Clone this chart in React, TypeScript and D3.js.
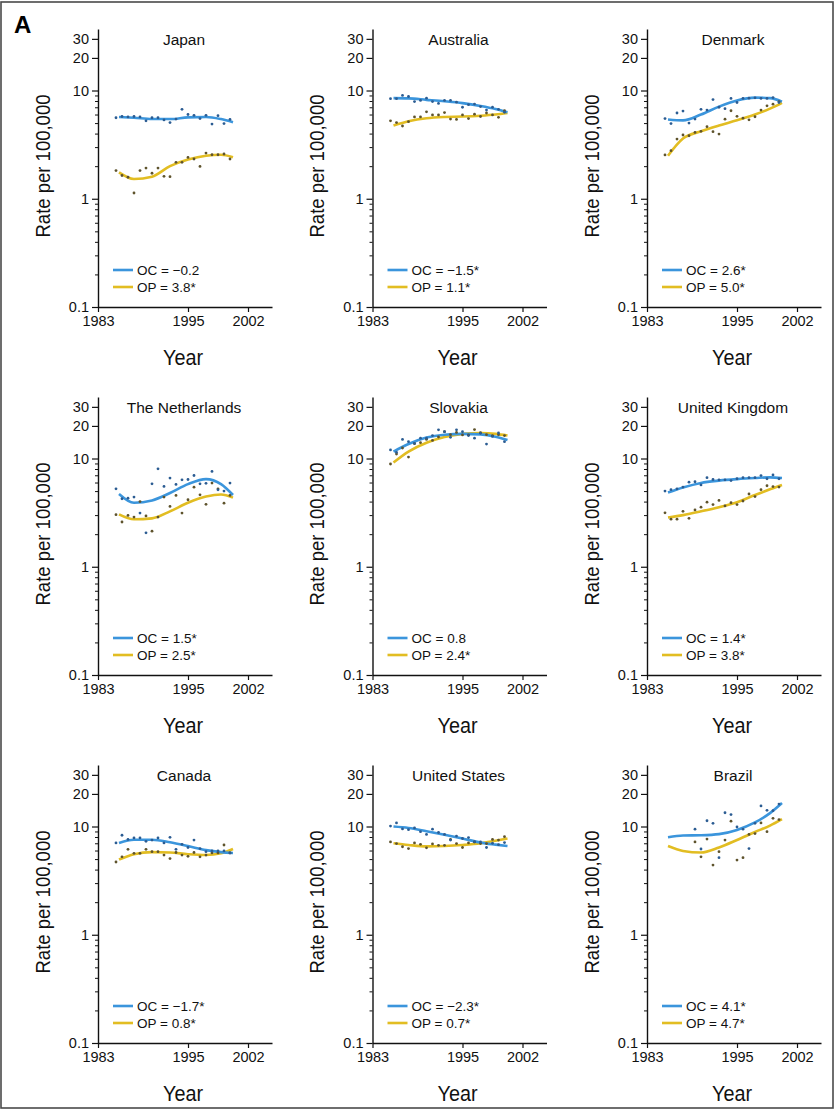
import React, { useRef, useEffect } from 'react';
import * as d3 from 'd3';

// annual points 1983-2002 (Brazil 1988-2002), fitted curves read at a few knots
const years = [1983, 1984, 1985, 1986, 1987, 1988, 1989, 1990, 1991, 1992, 1993, 1994, 1995, 1996, 1997, 1998, 1999, 2000, 2001, 2002];
const brazilYears = [1988, 1989, 1990, 1991, 1992, 1993, 1994, 1995, 1996, 1997, 1998, 1999, 2000, 2001, 2002];
const fitYears = [1983.5, 1986, 1989, 1992, 1995, 1998, 2000.5, 2002.5];

const countries = ['Japan', 'Australia', 'Denmark', 'The Netherlands', 'Slovakia', 'United Kingdom', 'Canada', 'United States', 'Brazil'];
const ocLabels = ['OC = \u22120.2', 'OC = \u22121.5*', 'OC = 2.6*', 'OC = 1.5*', 'OC = 0.8', 'OC = 1.4*', 'OC = \u22121.7*', 'OC = \u22122.3*', 'OC = 4.1*'];
const opLabels = ['OP = 3.8*', 'OP = 1.1*', 'OP = 5.0*', 'OP = 2.5*', 'OP = 2.4*', 'OP = 3.8*', 'OP = 0.8*', 'OP = 0.7*', 'OP = 4.7*'];

const japanOC = [5.6, 5.75, 5.7, 5.75, 5.7, 5.25, 5.6, 5.6, 5.35, 5.05, 5.45, 6.7, 6.0, 5.9, 5.5, 5.9, 4.9, 5.85, 4.95, 5.4];
const japanOP = [1.82, 1.64, 1.58, 1.13, 1.82, 1.92, 1.72, 1.92, 1.61, 1.6, 2.17, 2.17, 2.41, 2.33, 1.99, 2.64, 2.55, 2.55, 2.59, 2.33];
const japanOCFit = [5.7, 5.6, 5.45, 5.45, 5.65, 5.7, 5.45, 5.1];
const japanOPFit = [1.75, 1.52, 1.6, 2.0, 2.3, 2.5, 2.55, 2.42];

const australiaOC = [8.4, 8.4, 9.0, 8.8, 7.9, 8.1, 8.5, 7.9, 7.6, 8.1, 8.1, 7.8, 7.0, 7.4, 7.5, 7.1, 6.6, 7.0, 6.7, 6.3];
const australiaOP = [5.25, 5.05, 4.7, 5.15, 5.7, 5.7, 6.35, 5.95, 5.95, 6.25, 5.45, 5.4, 5.95, 5.5, 6.05, 5.75, 6.2, 5.95, 5.65, 6.5];
const australiaOCFit = [8.5, 8.45, 8.2, 7.95, 7.65, 7.2, 6.75, 6.3];
const australiaOPFit = [4.75, 5.2, 5.55, 5.7, 5.75, 5.85, 6.0, 6.2];

const denmarkOC = [5.5, 4.95, 6.2, 6.45, 5.0, 5.45, 6.7, 6.6, 8.25, 7.0, 6.8, 8.45, 7.75, 8.45, 8.5, 8.55, 8.45, 8.45, 8.6, 7.75];
const denmarkOP = [2.54, 2.78, 3.56, 3.88, 3.82, 4.1, 4.2, 4.63, 4.17, 3.96, 5.44, 6.5, 5.77, 5.55, 5.36, 5.72, 6.6, 7.22, 7.48, 7.9];
const denmarkOCFit = [5.4, 5.3, 6.0, 7.1, 8.1, 8.6, 8.5, 7.9];
const denmarkOPFit = [2.5, 3.6, 4.2, 4.75, 5.3, 6.0, 6.8, 7.7];

const netherlandsOC = [5.25, 4.25, 4.3, 4.4, 3.13, 2.06, 5.84, 8.03, 5.52, 6.59, 5.76, 6.36, 6.4, 6.97, 5.84, 5.9, 7.59, 5.14, 5.0, 5.93];
const netherlandsOP = [3.03, 2.59, 2.98, 2.88, 4.0, 2.95, 2.13, 2.88, 4.4, 3.61, 4.56, 3.13, 4.16, 5.44, 4.62, 3.77, 5.93, 5.25, 3.87, 4.56];
const netherlandsOCFit = [4.7, 3.9, 4.1, 4.8, 5.8, 6.45, 5.8, 4.6];
const netherlandsOPFit = [3.05, 2.75, 2.8, 3.25, 3.9, 4.45, 4.65, 4.35];

const slovakiaOC = [12.0, 11.4, 15.0, 14.3, 13.8, 15.4, 15.4, 16.3, 18.4, 17.7, 15.7, 18.4, 17.7, 16.3, 15.4, 17.1, 13.6, 16.0, 17.2, 14.3];
const slovakiaOP = [8.9, 11.0, 12.5, 10.3, 13.7, 14.0, 15.0, 14.7, 15.8, 17.7, 16.6, 17.4, 16.5, 16.5, 18.5, 17.3, 16.6, 16.3, 16.6, 16.3];
const slovakiaOCFit = [11.6, 13.6, 15.6, 16.6, 16.9, 16.7, 15.9, 14.8];
const slovakiaOPFit = [9.2, 11.6, 14.0, 15.8, 16.9, 17.2, 16.9, 16.3];

const ukOC = [5.0, 5.15, 5.25, 5.45, 6.05, 6.1, 5.7, 6.65, 6.4, 6.35, 6.35, 6.25, 6.5, 6.65, 6.65, 6.65, 6.95, 6.5, 7.05, 6.5];
const ukOP = [3.15, 2.75, 2.75, 3.25, 2.8, 3.35, 3.55, 3.95, 3.75, 4.1, 3.65, 3.9, 3.75, 4.05, 4.7, 4.45, 5.15, 5.6, 5.5, 5.45];
const ukOCFit = [4.85, 5.4, 5.95, 6.25, 6.45, 6.6, 6.7, 6.6];
const ukOPFit = [2.85, 3.0, 3.25, 3.55, 3.95, 4.6, 5.2, 5.7];

const canadaOC = [7.05, 8.3, 7.6, 7.85, 7.85, 7.3, 7.5, 7.85, 7.05, 7.95, 6.15, 6.85, 6.4, 7.5, 6.25, 5.85, 5.95, 5.95, 5.95, 5.7];
const canadaOP = [4.7, 5.25, 6.15, 5.65, 5.65, 6.15, 5.85, 5.85, 5.45, 5.05, 5.75, 5.45, 5.3, 5.75, 5.25, 5.45, 5.7, 5.7, 6.75, 5.7];
const canadaOCFit = [7.05, 7.55, 7.55, 7.15, 6.6, 6.05, 5.8, 5.7];
const canadaOPFit = [4.95, 5.55, 5.8, 5.75, 5.55, 5.45, 5.65, 6.2];

const usOC = [10.1, 10.8, 9.5, 9.35, 9.7, 8.95, 8.45, 9.45, 8.8, 8.45, 7.5, 8.15, 7.75, 7.9, 7.2, 7.2, 6.4, 7.0, 6.8, 7.1];
const usOP = [7.2, 6.95, 6.5, 6.25, 7.05, 6.85, 6.35, 6.9, 6.7, 6.7, 7.6, 6.95, 6.4, 7.05, 7.2, 6.95, 6.95, 7.6, 7.5, 8.05];
const usOCFit = [10.0, 9.7, 9.05, 8.4, 7.75, 7.1, 6.8, 6.6];
const usOPFit = [7.0, 6.75, 6.55, 6.6, 6.75, 7.0, 7.4, 7.75];

const brazilOC = [9.45, 6.2, 11.3, 10.7, 5.15, 13.4, 12.9, 9.9, 9.45, 6.25, 10.7, 15.5, 14.1, 14.0, 16.1];
const brazilOP = [7.2, 5.25, 7.65, 4.4, 5.85, 7.5, 11.2, 4.9, 5.15, 8.45, 8.6, 10.8, 8.95, 11.9, 11.6];
const brazilOCFit = [7.95, 8.25, 8.3, 8.5, 9.3, 10.9, 13.3, 16.5];
const brazilOPFit = [6.6, 5.95, 5.75, 6.4, 7.5, 8.9, 10.2, 11.7];

const yMajorTicks = [0.1, 1, 10, 20, 30];
const yMinorTicks = [0.2, 0.3, 0.4, 0.5, 0.6, 0.7, 0.8, 0.9, 2, 3, 4, 5, 6, 7, 8, 9];
// the printed axis puts "1983" at the origin and "2002" past the last point
const xTickAt = [1980, 1995, 2005];
const xTickLabels = ['1983', '1995', '2002'];

const panels = [
  { oc: japanOC, op: japanOP, ocFit: japanOCFit, opFit: japanOPFit, yrs: years },
  { oc: australiaOC, op: australiaOP, ocFit: australiaOCFit, opFit: australiaOPFit, yrs: years },
  { oc: denmarkOC, op: denmarkOP, ocFit: denmarkOCFit, opFit: denmarkOPFit, yrs: years },
  { oc: netherlandsOC, op: netherlandsOP, ocFit: netherlandsOCFit, opFit: netherlandsOPFit, yrs: years },
  { oc: slovakiaOC, op: slovakiaOP, ocFit: slovakiaOCFit, opFit: slovakiaOPFit, yrs: years },
  { oc: ukOC, op: ukOP, ocFit: ukOCFit, opFit: ukOPFit, yrs: years },
  { oc: canadaOC, op: canadaOP, ocFit: canadaOCFit, opFit: canadaOPFit, yrs: years },
  { oc: usOC, op: usOP, ocFit: usOCFit, opFit: usOPFit, yrs: years },
  { oc: brazilOC, op: brazilOP, ocFit: brazilOCFit, opFit: brazilOPFit, yrs: brazilYears },
];

const FONT = '"Liberation Sans", Arial, Helvetica, sans-serif';
const OC_LINE = '#3b95dc';
const OP_LINE = '#e2bd22';
const OC_DOT = '#2b5c92';
const OP_DOT = '#5e532c';

export default function App() {
  const svgRef = useRef<SVGSVGElement>(null);

  useEffect(() => {
    const svg = d3.select(svgRef.current);
    svg.selectAll('*').remove();

    const plotW = 174;
    const plotH = 278;

    svg.append('rect')
      .attr('x', 1).attr('y', 2).attr('width', 832).attr('height', 1106)
      .attr('fill', 'none').attr('stroke', '#4a4a4a').attr('stroke-width', 1.6);

    svg.append('text')
      .attr('x', 14).attr('y', 33)
      .style('font-family', FONT).style('font-size', '24px').style('font-weight', '700')
      .text('A');

    panels.forEach((p, i) => {
      const col = i % 3;
      const row = Math.floor(i / 3);
      const g = svg.append('g')
        .attr('transform', `translate(${98 + col * 274.5},${307 + row * 368 - plotH})`);

      const x = d3.scaleLinear().domain([1980, 2009]).range([0, plotW]);
      const y = d3.scaleLog().domain([0.1, 37]).range([plotH, 0]);

      // minor ticks
      const minor = g.append('g')
        .call(d3.axisLeft(y).tickValues(yMinorTicks).tickSize(3).tickFormat(() => ''));
      minor.select('.domain').remove();
      minor.selectAll('line').attr('stroke', '#111').attr('stroke-width', 1);

      const yAxis = g.append('g')
        .call(d3.axisLeft(y).tickValues(yMajorTicks).tickSize(6).tickSizeOuter(0).tickPadding(3)
          .tickFormat((d) => String(d)));
      yAxis.select('.domain').attr('stroke', '#111').attr('stroke-width', 1.4);
      yAxis.selectAll('line').attr('stroke', '#111').attr('stroke-width', 1.2);
      yAxis.selectAll('text').style('font-family', FONT).style('font-size', '14.5px').attr('fill', '#111');

      const xAxis = g.append('g')
        .attr('transform', `translate(0,${plotH})`)
        .call(d3.axisBottom(x).tickValues(xTickAt).tickSize(5).tickSizeOuter(0).tickPadding(4)
          .tickFormat((d, k) => xTickLabels[k]));
      xAxis.select('.domain').attr('stroke', '#111').attr('stroke-width', 1.4);
      xAxis.selectAll('line').attr('stroke', '#111').attr('stroke-width', 1.2);
      xAxis.selectAll('text').style('font-family', FONT).style('font-size', '14.5px').attr('fill', '#111');

      // title
      g.append('text')
        .attr('x', 86).attr('y', plotH - 262)
        .attr('text-anchor', 'middle')
        .style('font-family', FONT).style('font-size', '15.5px').attr('fill', '#111')
        .text(countries[i]);

      // axis titles
      g.append('text')
        .attr('transform', `translate(-48.5,${plotH - 141}) rotate(-90)`)
        .attr('text-anchor', 'middle')
        .attr('textLength', 143).attr('lengthAdjust', 'spacingAndGlyphs')
        .style('font-family', FONT).style('font-size', '21px').attr('fill', '#111')
        .text('Rate per 100,000');

      g.append('text')
        .attr('x', 85).attr('y', plotH + 58)
        .attr('text-anchor', 'middle')
        .attr('textLength', 40).attr('lengthAdjust', 'spacingAndGlyphs')
        .style('font-family', FONT).style('font-size', '22px').attr('fill', '#111')
        .text('Year');

      const line = d3.line<[number, number]>()
        .x((d) => x(d[0]))
        .y((d) => y(d[1]))
        .curve(d3.curveMonotoneX);

      const series = [
        { fit: p.opFit, pts: p.op, lc: OP_LINE, dc: OP_DOT },
        { fit: p.ocFit, pts: p.oc, lc: OC_LINE, dc: OC_DOT },
      ];
      series.forEach((s) => {
        g.append('path')
          .datum(fitYears.map((yr, k) => [yr, s.fit[k]] as [number, number]))
          .attr('d', line)
          .attr('fill', 'none')
          .attr('stroke', s.lc)
          .attr('stroke-width', 2.6);
      });
      series.forEach((s) => {
        g.append('g').selectAll('circle')
          .data(s.pts.map((v, k) => [p.yrs[k], v]))
          .enter().append('circle')
          .attr('cx', (d) => x(d[0]))
          .attr('cy', (d) => y(d[1]))
          .attr('r', 1.4)
          .attr('fill', s.dc);
      });

      // legend
      const legend = [
        { label: ocLabels[i], c: OC_LINE, dy: 37 },
        { label: opLabels[i], c: OP_LINE, dy: 20 },
      ];
      legend.forEach((l) => {
        g.append('line')
          .attr('x1', 15).attr('x2', 35)
          .attr('y1', plotH - l.dy).attr('y2', plotH - l.dy)
          .attr('stroke', l.c).attr('stroke-width', 2.6);
        g.append('text')
          .attr('x', 39).attr('y', plotH - l.dy)
          .attr('dy', '0.36em')
          .style('font-family', FONT).style('font-size', '13.5px').attr('fill', '#111')
          .text(l.label);
      });
    });
  }, []);

  return (
    <svg
      ref={svgRef}
      width={837}
      height={1118}
      style={{ position: 'absolute', left: 0, top: 0, background: '#fff' }}
    />
  );
}
